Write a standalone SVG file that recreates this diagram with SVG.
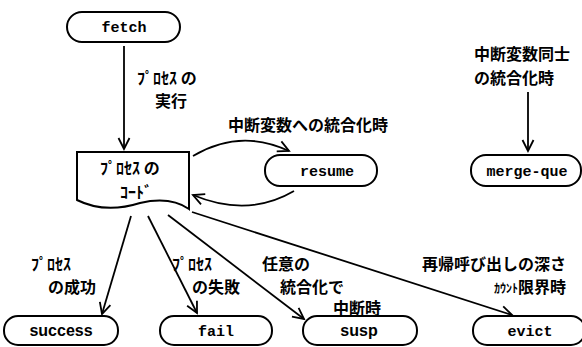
<svg xmlns="http://www.w3.org/2000/svg" width="582" height="347" viewBox="0 0 582 347">
<defs>
<marker id="ah" markerUnits="userSpaceOnUse" markerWidth="14" markerHeight="14" viewBox="-12 -7 14 14" refX="0" refY="0" orient="auto">
<polyline points="-11,-5.5 0,0 -11,5.5" fill="none" stroke="#000" stroke-width="1.8"/>
</marker>
</defs>
<style>
.n{fill:#fff;stroke:#000;stroke-width:2}
.c{fill:none;stroke:#000;stroke-width:1.8;marker-end:url(#ah)}
.m{font-family:"Liberation Mono","DejaVu Sans Mono",monospace;font-size:15px;font-weight:bold;text-anchor:middle}
.s{font-family:"Liberation Sans",Arial,sans-serif;font-size:16px;font-weight:bold;text-anchor:middle}
.j{font-family:"Noto Sans CJK JP","Noto Sans CJK SC",sans-serif;font-size:16px;font-weight:bold}
</style>
<rect width="582" height="347" fill="#fff"/>
<g id="connectors">
<line class="c" x1="124" y1="46" x2="124" y2="149"/>
<path class="c" d="M193,156 Q240,128 289,151"/>
<path class="c" d="M294,191 Q248,218 193,195"/>
<line class="c" x1="528" y1="92" x2="528" y2="151"/>
<line class="c" x1="131" y1="216" x2="102" y2="314"/>
<line class="c" x1="148" y1="216" x2="197" y2="313"/>
<line class="c" x1="168" y1="215" x2="304" y2="319"/>
<line class="c" x1="192" y1="212" x2="512" y2="315"/>
</g>
<g id="fetch"><rect class="n" x="67" y="12" width="113" height="30" rx="15"/><text class="m" x="124" y="32">fetch</text></g>
<g id="code"><path class="n" d="M77,152 H189 V209 Q170,196 140,203 Q105,214 77,200 Z"/><text class="j" x="100" y="174">ﾌﾟﾛｾｽ の</text><text class="j" x="120" y="198">ｺｰﾄﾞ</text></g>
<g id="resume"><rect class="n" x="265" y="155" width="112" height="31" rx="15"/><text class="m" x="327" y="176">resume</text></g>
<g id="merge-que"><rect class="n" x="471" y="155" width="110" height="31" rx="15"/><text class="m" x="527" y="176">merge-que</text></g>
<g id="success"><rect class="n" x="4" y="316" width="114" height="29" rx="14"/><text class="s" x="61" y="336">success</text></g>
<g id="fail"><rect class="n" x="160" y="316" width="112" height="29" rx="14"/><text class="m" x="216" y="336">fail</text></g>
<g id="susp"><rect class="n" x="303" y="316" width="114" height="29" rx="14"/><text class="s" x="359" y="336">susp</text></g>
<g id="evict"><rect class="n" x="473" y="316" width="112" height="29" rx="14"/><text class="m" x="530" y="336">evict</text></g>
<g id="labels">
<text class="j" x="137" y="84">ﾌﾟﾛｾｽ の</text>
<text class="j" x="155" y="107">実行</text>
<text class="j" x="228" y="131">中断変数への統合化時</text>
<text class="j" x="474" y="60">中断変数同士</text>
<text class="j" x="474" y="84">の統合化時</text>
<text class="j" x="31" y="270">ﾌﾟﾛｾｽ</text>
<text class="j" x="48" y="293">の成功</text>
<text class="j" x="172" y="270">ﾌﾟﾛｾｽ</text>
<text class="j" x="192" y="293">の失敗</text>
<text class="j" x="262" y="270">任意の</text>
<text class="j" x="280" y="293">統合化で</text>
<text class="j" x="333" y="314">中断時</text>
<text class="j" x="422" y="270">再帰呼び出しの深さ</text>
<text class="j" x="494" y="293"><tspan font-size="12">ｶｳﾝﾄ</tspan>限界時</text>
</g>
</svg>
